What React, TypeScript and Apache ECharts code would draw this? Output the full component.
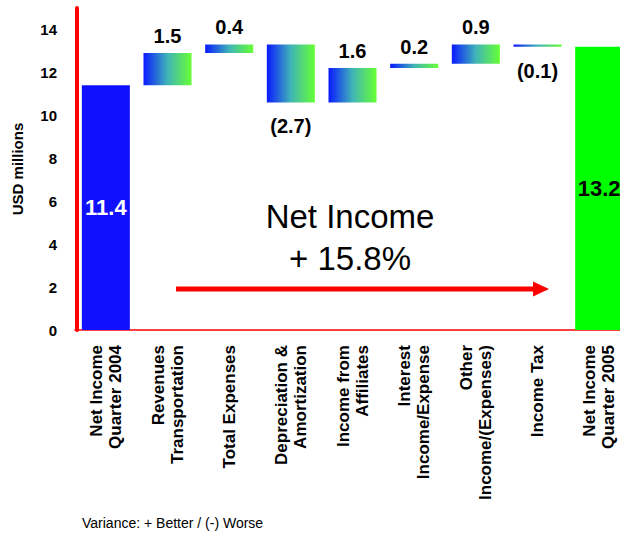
import React, { useEffect, useRef } from "react";
import * as echarts from "echarts";

const categories = [
  "Net Income\nQuarter 2004",
  "Revenues\nTransportation",
  "Total Expenses",
  "Depreciation &\nAmortization",
  "Income from\nAffiliates",
  "Interest\nIncome/Expense",
  "Other\nIncome/(Expenses)",
  "Income Tax",
  "Net Income\nQuarter 2005",
];
// first and last are totals, the rest are changes
const values = [11.4, 1.5, 0.4, -2.7, 1.6, 0.2, 0.9, -0.1, 13.2];
const isTotal = [true, false, false, false, false, false, false, false, true];
const yTicks = { min: 0, max: 15, interval: 2 };
const annotation = "Net Income\n+ 15.8%";
const footnote = "Variance: + Better / (-) Worse";

const FONT = '"Liberation Sans", Arial, Helvetica, sans-serif';

export default function App() {
  const ref = useRef<HTMLDivElement>(null);

  useEffect(() => {
    if (!ref.current) return;
    document.body.style.margin = "0";
    const chart = echarts.init(ref.current, undefined, { renderer: "svg" });

    // waterfall base computation
    const base: number[] = [];
    const height: number[] = [];
    let running = 0;
    values.forEach((v, i) => {
      if (isTotal[i]) {
        base.push(0);
        height.push(v);
        running = v;
      } else if (v >= 0) {
        base.push(running);
        height.push(v);
        running += v;
      } else {
        running += v;
        base.push(running);
        height.push(-v);
      }
    });

    const gradient = new echarts.graphic.LinearGradient(0, 0, 1, 0, [
      { offset: 0, color: "#0a1aff" },
      { offset: 0.5, color: "#40b4b8" },
      { offset: 1, color: "#66ff33" },
    ]);

    const deltaData = height.map((h, i) => {
      const v = values[i];
      if (isTotal[i]) {
        return {
          value: h,
          itemStyle: { color: i === 0 ? "#1010ff" : "#00ff00" },
          label: {
            show: true,
            position: "inside",
            formatter: v.toFixed(1),
            color: i === 0 ? "#ffffff" : "#000000",
            fontSize: 22,
            fontWeight: "bold",
            fontFamily: FONT,
          },
        };
      }
      return {
        value: h,
        itemStyle: { color: gradient },
        label: {
          show: true,
          position: v >= 0 ? "top" : "bottom",
          distance: v >= 0 ? 7 : 14,
          formatter: v >= 0 ? v.toFixed(1) : "(" + Math.abs(v).toFixed(1) + ")",
          color: "#000000",
          fontSize: 20,
          fontWeight: "bold",
          fontFamily: FONT,
        },
      };
    });

    chart.setOption({
      animation: false,
      backgroundColor: "#ffffff",
      grid: { left: 75, right: 10, top: 8, bottom: 203, containLabel: false },
      xAxis: {
        type: "category",
        data: categories,
        axisLine: { show: true, lineStyle: { color: "#ff0000", width: 1.5 } },
        axisTick: { show: false },
        axisLabel: {
          interval: 0,
          rotate: 90,
          margin: 15,
          color: "#000000",
          fontSize: 17,
          fontWeight: "bold",
          lineHeight: 19,
          fontFamily: FONT,
        },
      },
      yAxis: {
        type: "value",
        min: yTicks.min,
        max: yTicks.max,
        interval: yTicks.interval,
        offset: -2,
        name: "USD millions",
        nameLocation: "middle",
        nameGap: 52,
        nameTextStyle: {
          color: "#000000",
          fontSize: 15,
          fontWeight: "bold",
          fontFamily: FONT,
        },
        axisLine: { show: true, lineStyle: { color: "#ff0000", width: 4 } },
        axisTick: { show: false },
        splitLine: { show: false },
        axisLabel: {
          showMaxLabel: false,
          margin: 20,
          color: "#000000",
          fontSize: 15,
          fontWeight: "bold",
          fontFamily: FONT,
        },
      },
      series: [
        {
          type: "bar",
          stack: "w",
          barWidth: 48,
          itemStyle: { color: "transparent" },
          emphasis: { disabled: true },
          data: base,
        },
        {
          type: "bar",
          stack: "w",
          barWidth: 48,
          emphasis: { disabled: true },
          data: deltaData,
        },
      ],
      graphic: [
        {
          type: "text",
          x: 350,
          y: 237,
          style: {
            text: annotation,
            font: `33px ${FONT}`,
            fill: "#000000",
            align: "center",
            verticalAlign: "middle",
            lineHeight: 42,
          },
        },
        {
          type: "line",
          shape: { x1: 176, y1: 289, x2: 536, y2: 289 },
          style: { stroke: "#ff0000", lineWidth: 5 },
        },
        {
          type: "polygon",
          shape: { points: [[533, 281.5], [549, 289], [533, 296.5]] },
          style: { fill: "#ff0000" },
        },
        {
          type: "text",
          x: 82,
          y: 523,
          style: {
            text: footnote,
            font: `14px ${FONT}`,
            fill: "#000000",
            align: "left",
            verticalAlign: "middle",
          },
        },
      ],
    });

    return () => chart.dispose();
  }, []);

  return (
    <div style={{ position: "absolute", left: 0, top: 0, width: 620, height: 533, overflow: "hidden" }}>
      <div ref={ref} style={{ width: 640, height: 533 }} />
    </div>
  );
}
